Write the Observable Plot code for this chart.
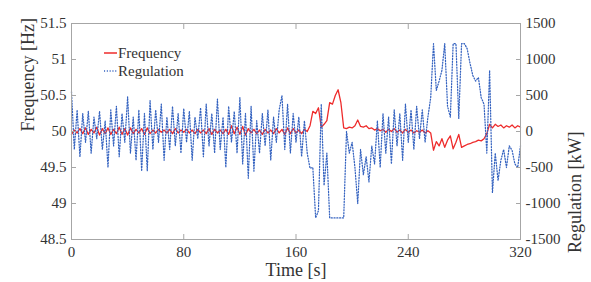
<!DOCTYPE html>
<html><head><meta charset="utf-8">
<script src="https://cdn.jsdelivr.net/npm/d3@7"></script>
<script src="https://cdn.jsdelivr.net/npm/@observablehq/plot@0.6"></script>
<style>body{margin:0;background:#fff}</style>
</head><body><div id="chart"></div>
<script>
const time = [
0,2,4,6,8,10,12,14,16,18,
20,22,24,26,28,30,32,34,36,38,
40,42,44,46,48,50,52,54,56,58,
60,62,64,66,68,70,72,74,76,78,
80,82,84,86,88,90,92,94,96,98,
100,102,104,106,108,110,112,114,116,118,
120,122,124,126,128,130,132,134,136,138,
140,142,144,146,148,150,152,154,156,158,
160,162,164,166,168,170,172,174,176,178,
180,182,184,186,188,190,192,194,196,198,
200,202,204,206,208,210,212,214,216,218,
220,222,224,226,228,230,232,234,236,238,
240,242,244,246,248,250,252,254,256,258,
260,262,264,266,268,270,272,274,276,278,
280,282,284,286,288,290,292,294,296,298,
300,302,304,306,308,310,312,314,316,318,
320];
// Regulation [kW]
const regulation = [
550,-250,300,-350,250,-150,280,-300,200,-100,
280,-250,150,-500,300,-200,350,-350,250,-150,
480,-300,200,-400,300,-550,250,-550,430,-250,
300,-150,380,-400,200,-250,350,-200,250,-300,
320,-150,280,-400,200,-100,330,-350,380,-200,
250,-300,450,-250,200,-500,350,-150,280,-300,
470,-450,250,-650,350,-550,150,-300,250,-200,
300,-400,200,-150,300,500,-250,380,-300,250,
-150,200,-350,150,-300,-510,-500,-1200,-1100,380,
-750,-300,-1200,-1200,-1200,-1200,-1200,-1200,0,-300,
-150,-500,-1000,-250,-600,-350,-700,-200,-450,150,
-500,250,-300,200,-450,300,-200,250,-400,380,
-150,300,-250,350,-100,300,-150,200,470,1220,
570,700,850,1220,350,200,1220,1220,180,1220,
1220,1150,950,780,700,750,470,380,-300,850,
-850,-300,-680,-400,-250,-500,-200,-260,-450,-500,
-200];
// Frequency [Hz]
const frequency = [
49.96,50.02,49.98,50.04,49.97,50.05,49.96,50.03,49.98,50.06,
49.95,50.04,49.97,50.05,49.96,50.03,49.97,50.06,49.96,50.04,
49.95,50.05,49.97,50.03,49.98,50.04,49.96,50.05,49.97,50.02,
49.98,50.03,49.99,50.02,49.98,50.03,49.97,50.04,49.98,50.02,
49.99,50.03,49.98,50.02,49.97,50.03,49.98,50.02,49.97,50.04,
49.96,50.03,49.98,50.02,49.97,50.03,49.96,50.08,49.97,50.06,
49.96,50.07,49.95,50.04,49.98,50.03,49.97,50.02,49.96,50.03,
49.98,50.02,49.97,50.04,49.98,50.03,49.96,50.05,49.97,50.04,
49.98,50.02,49.97,50.03,50.00,50.08,50.28,50.25,50.33,50.06,
50.10,50.15,50.40,50.38,50.50,50.58,50.40,50.05,50.04,50.06,
50.05,50.08,50.16,50.07,50.06,50.08,50.04,50.05,50.02,50.04,
50.01,50.03,49.99,50.03,50.00,50.04,49.99,50.02,49.98,50.03,
49.99,50.02,49.98,50.01,49.99,50.02,49.98,50.01,49.98,49.74,
49.86,49.80,49.90,49.78,49.88,49.94,49.76,49.85,49.96,49.78,
49.80,49.82,49.83,49.85,49.86,49.88,49.87,49.90,49.97,50.10,
50.05,50.10,50.07,50.09,50.05,50.08,50.06,50.09,50.05,50.08,
50.06];
const xTicks = [0, 80, 160, 240, 320];
const freqTicks = [48.5, 49, 49.5, 50, 50.5, 51, 51.5];
const regTickLabels = ["-1500", "-1000", "-500", "0", "500", "1000", "1500"];
const seriesNames = ["Frequency", "Regulation"];

// Secondary axis: 0 kW aligned with 50 Hz, 1000 kW per 1 Hz
const regToFreq = r => 50 + r / 1000;
const rows = time.map((t, i) => ({t, f: frequency[i], r: regToFreq(regulation[i])}));

const font = "'Liberation Serif', 'Times New Roman', serif";
const red = "#ee2b2b", blue = "#3563c0", gray = "#a6a6a6", ink = "#333";
const dash = "1.1,1.7";

const chart = Plot.plot({
  width: 591, height: 282,
  marginLeft: 71, marginRight: 71, marginTop: 23, marginBottom: 43,
  style: {fontFamily: font, fontSize: "15px", color: ink, background: "#fff"},
  x: {domain: [0, 320]},
  y: {domain: [48.5, 51.5]},
  marks: [
    Plot.line(rows, {x: "t", y: "f", stroke: red, strokeWidth: 1.3}),
    Plot.line(rows, {x: "t", y: "r", stroke: blue, strokeWidth: 1.25, strokeDasharray: dash}),
    Plot.frame({stroke: gray}),
    Plot.axisX({anchor: "bottom", ticks: xTicks, tickSize: -5, tickPadding: 12, stroke: gray, fill: ink, fontSize: 15, fontFamily: font, label: null}),
    Plot.axisX({anchor: "top", ticks: xTicks, tickSize: -5, stroke: gray, tickFormat: () => "", label: null}),
    Plot.axisY({anchor: "left", ticks: freqTicks, tickSize: -5, tickPadding: 10, stroke: gray, fill: ink, fontSize: 15, fontFamily: font, tickFormat: d => String(d), label: null}),
    Plot.axisY({anchor: "right", ticks: freqTicks, tickSize: -5, tickPadding: 10, stroke: gray, fill: ink, fontSize: 15, fontFamily: font, tickFormat: d => regTickLabels[freqTicks.indexOf(d)], label: null}),
    Plot.text(["Frequency [Hz]"], {frameAnchor: "left", dx: -43, rotate: -90, fontSize: 18, fontFamily: font, fill: ink}),
    Plot.text(["Regulation [kW]"], {frameAnchor: "right", dx: 55, rotate: -90, fontSize: 18, fontFamily: font, fill: ink}),
    Plot.text(["Time [s]"], {frameAnchor: "bottom", dy: 36, fontSize: 18, fontFamily: font, fill: ink})
  ]
});
document.getElementById("chart").appendChild(chart);

// Legend inside the plot area
const svg = d3.select(chart);
const lg = svg.append("g").attr("font-family", font).attr("font-size", 15)
  .attr("fill", ink).attr("text-anchor", "start");
lg.append("line").attr("x1", 104).attr("x2", 117).attr("y1", 53).attr("y2", 53)
  .attr("stroke", red).attr("stroke-width", 1.5);
lg.append("text").attr("x", 118).attr("y", 57.5).attr("text-anchor", "start").text(seriesNames[0]);
lg.append("line").attr("x1", 104).attr("x2", 117).attr("y1", 71).attr("y2", 71)
  .attr("stroke", blue).attr("stroke-width", 1.3).attr("stroke-dasharray", dash);
lg.append("text").attr("x", 118).attr("y", 75.5).attr("text-anchor", "start").text(seriesNames[1]);
</script>
</body></html>
